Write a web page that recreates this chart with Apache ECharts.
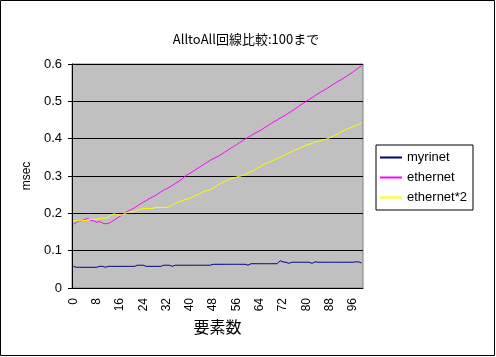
<!DOCTYPE html>
<html><head><meta charset="utf-8">
<script src="https://cdn.jsdelivr.net/npm/echarts@6/dist/echarts.min.js"></script>
<style>html,body{margin:0;padding:0;background:#fff}#c{width:496px;height:357px}</style>
</head><body><div id="c"></div>
<script>
var categories = [];
for (var i = 0; i < 100; i++) categories.push(String(i));
var myrinet = [0.058,0.0555,0.0555,0.0555,0.0555,0.0555,0.0555,0.0555,0.0555,0.058,
0.058,0.0555,0.058,0.058,0.058,0.058,0.058,0.058,0.058,0.058,
0.058,0.058,0.061,0.061,0.061,0.058,0.058,0.058,0.058,0.058,
0.058,0.061,0.061,0.061,0.058,0.061,0.061,0.061,0.061,0.061,
0.061,0.061,0.061,0.061,0.061,0.061,0.061,0.061,0.0635,0.0635,
0.0635,0.0635,0.0635,0.0635,0.0635,0.0635,0.0635,0.0635,0.0635,0.0635,
0.061,0.065,0.065,0.065,0.065,0.065,0.065,0.065,0.065,0.065,
0.065,0.073,0.070,0.069,0.066,0.069,0.069,0.069,0.069,0.069,
0.069,0.069,0.066,0.070,0.069,0.069,0.069,0.069,0.069,0.069,
0.069,0.069,0.069,0.069,0.069,0.069,0.069,0.070,0.070,0.067];
var ethernet = [0.171,0.176,0.179,0.180,0.184,0.186,0.181,0.180,0.176,0.178,
0.174,0.172,0.173,0.177,0.182,0.187,0.192,0.197,0.202,0.207,
0.211,0.215,0.220,0.225,0.230,0.234,0.239,0.243,0.247,0.252,
0.257,0.262,0.266,0.270,0.275,0.280,0.285,0.290,0.297,0.303,
0.307,0.312,0.317,0.322,0.327,0.332,0.337,0.342,0.346,0.350,
0.354,0.359,0.364,0.369,0.374,0.379,0.384,0.389,0.394,0.399,
0.403,0.408,0.413,0.417,0.421,0.426,0.431,0.436,0.441,0.446,
0.450,0.455,0.459,0.464,0.469,0.474,0.479,0.484,0.490,0.495,
0.500,0.505,0.510,0.515,0.520,0.525,0.529,0.534,0.539,0.544,
0.549,0.554,0.558,0.563,0.568,0.573,0.578,0.584,0.590,0.595];
var ethernet2 = [0.180,0.180,0.180,0.180,0.181,0.182,0.184,0.184,0.184,0.187,
0.187,0.187,0.190,0.196,0.199,0.196,0.195,0.196,0.201,0.203,
0.204,0.204,0.208,0.211,0.213,0.213,0.212,0.213,0.215,0.216,
0.216,0.216,0.216,0.218,0.222,0.227,0.230,0.233,0.236,0.238,
0.241,0.244,0.248,0.251,0.255,0.259,0.261,0.263,0.267,0.273,
0.278,0.281,0.285,0.289,0.292,0.295,0.297,0.299,0.301,0.304,
0.308,0.312,0.316,0.320,0.324,0.329,0.333,0.336,0.340,0.343,
0.347,0.350,0.354,0.358,0.362,0.365,0.369,0.372,0.376,0.379,
0.382,0.385,0.388,0.391,0.393,0.395,0.397,0.399,0.402,0.406,
0.410,0.413,0.418,0.422,0.426,0.429,0.432,0.435,0.439,0.442];
var seriesNames = ['myrinet','ethernet','ethernet*2'];
var colors = ['#000080','#FF00FF','#FFFF00'];

var FONT = '"Liberation Sans", Arial, sans-serif';
var JFONT = '"Noto Sans CJK JP", sans-serif';
var chart = echarts.init(document.getElementById('c'), null, {renderer:'canvas'});
function mk(name, data, color){
  return {name:name, type:'line', data:data, symbol:'none', animation:false,
    lineStyle:{color:color, width:1}, itemStyle:{color:color}};
}
chart.setOption({
  animation:false,
  backgroundColor:'#ffffff',
  title:{text:'AlltoAll回線比較:100まで', left:241, top:28, textAlign:'center',
    textStyle:{fontFamily:JFONT, fontSize:13, fontWeight:'normal', color:'#000'}},
  graphic:[{type:'rect', shape:{x:0.5,y:0.5,width:494,height:355}, style:{fill:'none', stroke:'#000', lineWidth:1}, silent:true}],
  legend:{orient:'vertical', left:376, top:145, itemWidth:22, itemHeight:2, itemGap:7,
    icon:'rect', padding:[6,6,6,4], borderColor:'#000', borderWidth:1,
    backgroundColor:'#fff',
    textStyle:{fontFamily:FONT, fontSize:13, color:'#000'},
    data:seriesNames},
  grid:{left:72, top:64, width:291, height:224, show:true, backgroundColor:'#C0C0C0', borderColor:'#808080', borderWidth:1},
  xAxis:{type:'category', data:categories, boundaryGap:true,
    name:'要素数', nameLocation:'middle', nameGap:30,
    nameTextStyle:{fontFamily:JFONT, fontSize:16, color:'#000'},
    axisLine:{lineStyle:{color:'#000', width:1}},
    axisTick:{inside:true, length:3, interval:0, lineStyle:{color:'#000'}},
    axisLabel:{interval:7, rotate:90, fontFamily:FONT, fontSize:12, color:'#000', margin:10},
    splitLine:{show:false}},
  yAxis:{type:'value', min:0, max:0.6, interval:0.1,
    name:'msec', nameLocation:'middle', nameGap:36, nameRotate:90,
    nameTextStyle:{fontFamily:FONT, fontSize:12, color:'#000'},
    axisLine:{show:true, lineStyle:{color:'#000', width:1}},
    axisTick:{show:true, length:4, lineStyle:{color:'#000'}},
    axisLabel:{fontFamily:FONT, fontSize:13, color:'#000', margin:10},
    splitLine:{show:true, lineStyle:{color:'#000', width:1}}},
  series:[mk(seriesNames[0], myrinet, colors[0]), mk(seriesNames[1], ethernet, colors[1]), mk(seriesNames[2], ethernet2, colors[2])]
});
</script></body></html>
